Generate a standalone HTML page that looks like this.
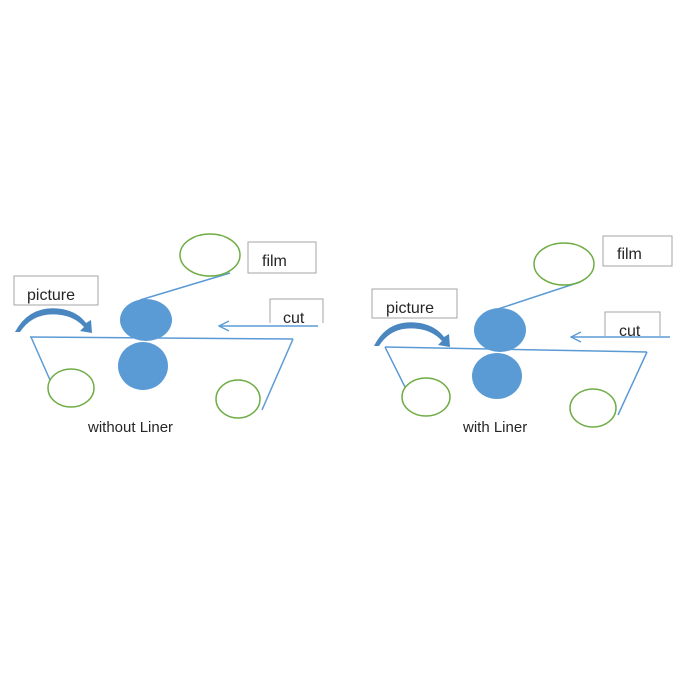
<!DOCTYPE html>
<html><head><style>body{margin:0;background:#fff}svg{display:block}</style></head><body>
<svg width="700" height="700" xmlns="http://www.w3.org/2000/svg" font-family="Liberation Sans, sans-serif">
<defs>
<marker id="ah" markerWidth="12" markerHeight="12" refX="11" refY="6" orient="auto" markerUnits="userSpaceOnUse"><path d="M1,1 L11,6 L1,11" fill="none" stroke="#5b9bd5" stroke-width="1.3"/></marker>
</defs>
<g stroke="#5b9bd5" stroke-width="1.5" fill="none">
<line x1="30" y1="337" x2="293" y2="339"/>
<line x1="140" y1="300" x2="230" y2="273"/>
<line x1="31" y1="337" x2="50" y2="380"/>
<line x1="293" y1="339" x2="262" y2="410"/>
<line x1="318" y1="326" x2="219" y2="326" marker-end="url(#ah)"/>
<line x1="385" y1="347" x2="647" y2="352"/>
<line x1="495" y1="310" x2="580" y2="282"/>
<line x1="385" y1="347" x2="405" y2="387"/>
<line x1="647" y1="352" x2="618" y2="415"/>
<line x1="670" y1="337" x2="571" y2="337" marker-end="url(#ah)"/>
</g>
<g fill="#5b9bd5">
<ellipse cx="146" cy="320" rx="26" ry="21"/>
<ellipse cx="143" cy="366" rx="25" ry="24"/>
<ellipse cx="500" cy="330" rx="26" ry="22"/>
<ellipse cx="497" cy="376" rx="25" ry="23"/>
</g>
<g fill="none" stroke="#70ad47" stroke-width="1.5">
<ellipse cx="210" cy="255" rx="30" ry="21"/>
<ellipse cx="71" cy="388" rx="23" ry="19"/>
<ellipse cx="238" cy="399" rx="22" ry="19"/>
<ellipse cx="564" cy="264" rx="30" ry="21"/>
<ellipse cx="426" cy="397" rx="24" ry="19"/>
<ellipse cx="593" cy="408" rx="23" ry="19"/>
</g>
<g fill="#fff" stroke="#a6a6a6" stroke-width="1">
<rect x="248" y="242" width="68" height="31"/>
<rect x="14" y="276" width="84" height="29"/>
<path d="M270,323 V299 H323 V323"/>
<rect x="603" y="236" width="69" height="30"/>
<rect x="372" y="289" width="85" height="29"/>
<path d="M605,336 V312 H660 V336"/>
</g>
<g fill="#4a86c0">
<path d="M15,332 Q30,304 62,309 Q78,312 86,323 L91,320 L92,333 L80,331 L84,327 Q75,317 61,315 Q34,311 20,332 Z"/>
<path d="M374,346 Q388,318 420,323 Q436,326 444,337 L449,334 L450,347 L438,345 L442,341 Q433,331 419,329 Q392,325 379,346 Z"/>
</g>
<g font-size="16" fill="#262626">
<text x="262" y="266">film</text>
<text x="27" y="300">picture</text>
<text x="283" y="323">cut</text>
<text x="617" y="259">film</text>
<text x="386" y="313">picture</text>
<text x="619" y="336">cut</text>
<text x="88" y="432" font-size="15">without Liner</text>
<text x="463" y="432" font-size="15">with Liner</text>
</g>
</svg>
</body></html>
